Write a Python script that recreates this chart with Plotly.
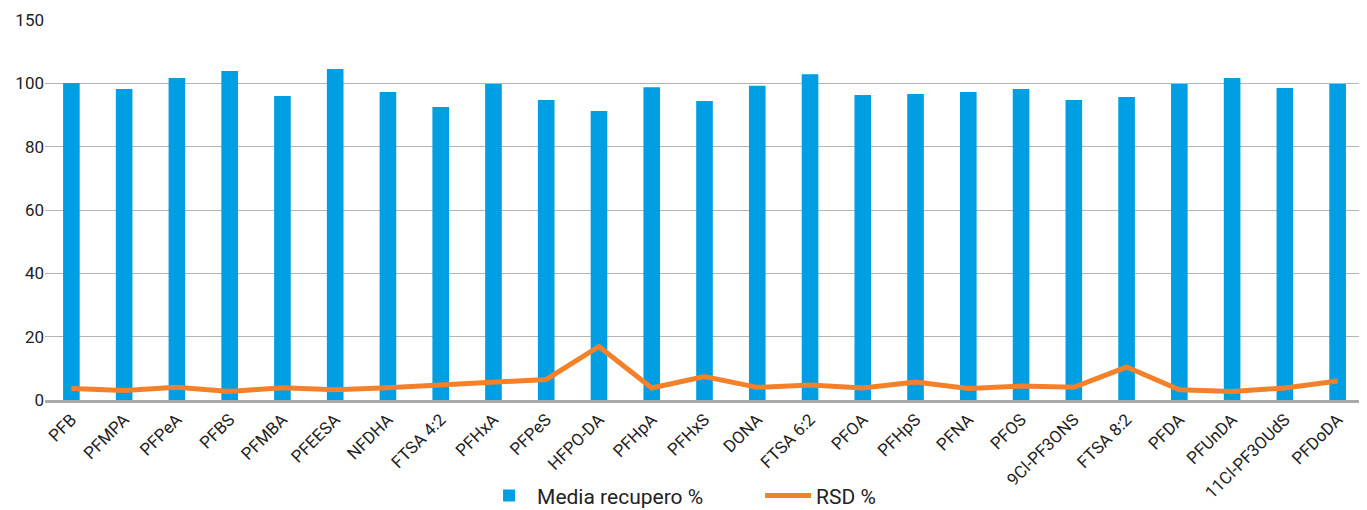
import plotly.graph_objects as go

categories = ["PFB", "PFMPA", "PFPeA", "PFBS", "PFMBA", "PFEESA", "NFDHA", "FTSA 4:2",
              "PFHxA", "PFPeS", "HFPO-DA", "PFHpA", "PFHxS", "DONA", "FTSA 6:2", "PFOA",
              "PFHpS", "PFNA", "PFOS", "9Cl-PF3ONS", "FTSA 8:2", "PFDA", "PFUnDA",
              "11Cl-PF3OUdS", "PFDoDA"]
media_recupero = [100.1, 98.2, 101.7, 103.9, 96.0, 104.5, 97.3, 92.5,
                  99.8, 94.7, 91.3, 98.8, 94.4, 99.2, 102.9, 96.3,
                  96.6, 97.3, 98.2, 94.7, 95.7, 99.8, 101.7, 98.5, 99.8]
rsd = [3.6, 3.0, 4.0, 2.7, 3.9, 3.2, 3.9, 4.7,
       5.7, 6.5, 16.9, 3.8, 7.4, 4.0, 4.7, 3.8,
       5.7, 3.6, 4.4, 4.0, 10.4, 3.2, 2.7, 3.8, 6.0]
y_tickvals = [0, 20, 40, 60, 80, 100, 120]
y_ticktext = ["0", "20", "40", "60", "80", "100", "150"]

fig = go.Figure()
fig.add_trace(go.Bar(x=categories, y=media_recupero, name="Media recupero %",
                     marker=dict(color="#009fe3", line=dict(width=0))))
fig.add_trace(go.Scatter(x=categories, y=rsd, name="RSD %", mode="lines",
                         line=dict(color="#f4812a", width=5)))

# page body has an 8px default margin, so the figure is offset by 8px;
# figure is taller than the window so the legend does not push margins
fig.update_layout(
    width=1359, height=540,
    margin=dict(l=37, r=3, t=12, b=148),
    plot_bgcolor="white", paper_bgcolor="white",
    font=dict(family="Roboto", size=17, color="#222222"),
    bargap=0.685,
    showlegend=True,
    legend=dict(orientation="h", x=0.3306, xanchor="left", y=-0.252, yanchor="middle",
                font=dict(size=21, color="#222222"), itemwidth=46,
                entrywidth=218, entrywidthmode="pixels", traceorder="normal",
                bgcolor="rgba(0,0,0,0)"),
    xaxis=dict(tickangle=-45, showgrid=False, showline=True, linecolor="#aaaaaa",
               linewidth=3, ticks="", tickfont=dict(size=17), automargin=False),
    yaxis=dict(range=[0, 120], tickvals=y_tickvals, ticktext=y_ticktext,
               showgrid=True, gridcolor="#b4b4b4", gridwidth=1, zeroline=False,
               showline=False, ticks="", tickfont=dict(size=17), automargin=False),
)

fig.write_html("out.html")
